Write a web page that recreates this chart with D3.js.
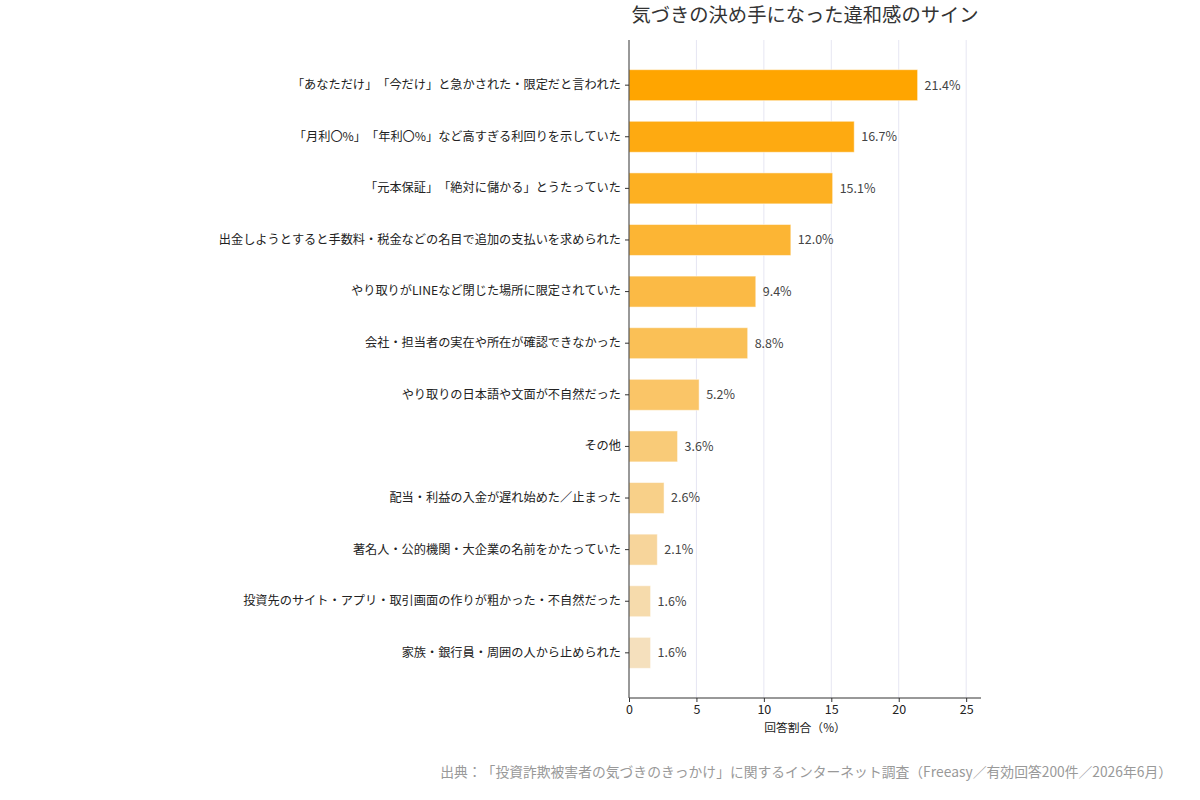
<!DOCTYPE html>
<html>
<head>
<meta charset="utf-8">
<script src="https://cdn.jsdelivr.net/npm/d3@7"></script>
<style>
  body { margin: 0; background: #fff; }
  svg { font-family: "Noto Sans CJK JP", "Noto Sans", sans-serif; text-spacing-trim: space-all; font-kerning: none; }
</style>
</head>
<body>
<div id="chart"></div>
<script>
const categories = [
    "「あなただけ」「今だけ」と急かされた・限定だと言われた",
    "「月利〇%」「年利〇%」など高すぎる利回りを示していた",
    "「元本保証」「絶対に儲かる」とうたっていた",
    "出金しようとすると手数料・税金などの名目で追加の支払いを求められた",
    "やり取りがLINEなど閉じた場所に限定されていた",
    "会社・担当者の実在や所在が確認できなかった",
    "やり取りの日本語や文面が不自然だった",
    "その他",
    "配当・利益の入金が遅れ始めた／止まった",
    "著名人・公的機関・大企業の名前をかたっていた",
    "投資先のサイト・アプリ・取引画面の作りが粗かった・不自然だった",
    "家族・銀行員・周囲の人から止められた"
];
const values = [21.4, 16.7, 15.1, 12.0, 9.4, 8.8, 5.2, 3.6, 2.6, 2.1, 1.6, 1.6];
const xTicks = [0, 5, 10, 15, 20, 25];

const width = 1200, height = 800;
const margin = { top: 40, right: 219, bottom: 102, left: 629 };

const svg = d3.select("#chart")
    .append("svg")
    .attr("width", width)
    .attr("height", height);

const x = d3.scaleLinear()
    .domain([0, 26.1])
    .range([margin.left, width - margin.right]);

const y = d3.scaleBand()
    .domain(categories)
    .range([margin.top, height - margin.bottom])
    .paddingInner(0.4)
    .paddingOuter(0.575);

const color = d3.scaleLinear()
    .domain([0, categories.length - 1])
    .range(["#ffa500", "#f5e0bd"]);

// gridlines
svg.append("g")
    .selectAll("line")
    .data(xTicks.filter(d => d > 0))
    .enter().append("line")
    .attr("x1", d => x(d))
    .attr("x2", d => x(d))
    .attr("y1", margin.top)
    .attr("y2", height - margin.bottom)
    .attr("stroke", "#e6e6f2")
    .attr("stroke-width", 1);

// bars
svg.append("g")
    .selectAll("rect")
    .data(values)
    .enter().append("rect")
    .attr("x", x(0))
    .attr("y", (d, i) => y(categories[i]))
    .attr("width", d => x(d) - x(0))
    .attr("height", y.bandwidth())
    .attr("fill", (d, i) => color(i))
    .attr("stroke", "#ffffff")
    .attr("stroke-opacity", 0.5)
    .attr("stroke-width", 1);

// value labels
svg.append("g")
    .selectAll("text")
    .data(values)
    .enter().append("text")
    .attr("x", d => x(d) + 7)
    .attr("y", (d, i) => y(categories[i]) + y.bandwidth() / 2)
    .attr("dy", "0.35em")
    .attr("font-size", "12.5px")
    .attr("fill", "#444")
    .text(d => d.toFixed(1) + "%");

// y axis
const yAxis = svg.append("g")
    .attr("transform", `translate(${margin.left},0)`)
    .call(d3.axisLeft(y).tickSize(4).tickPadding(4));
yAxis.select(".domain").attr("stroke", "#333").attr("d", `M0,${margin.top}V${height - margin.bottom}`);
yAxis.selectAll(".tick line").attr("stroke", "#333");
yAxis.selectAll(".tick text")
    .attr("font-size", "12.2px")
    .attr("fill", "#222")
    .attr("font-family", "Noto Sans CJK JP");

// x axis
const xAxis = svg.append("g")
    .attr("transform", `translate(0,${height - margin.bottom})`)
    .call(d3.axisBottom(x).tickValues(xTicks).tickSize(4).tickPadding(3));
xAxis.select(".domain").attr("stroke", "#333").attr("d", `M${margin.left},0H${width - margin.right}`);
xAxis.selectAll(".tick line").attr("stroke", "#333");
xAxis.selectAll(".tick text")
    .attr("font-size", "12.5px")
    .attr("fill", "#222")
    .attr("font-family", "Noto Sans CJK JP");

svg.append("text")
    .attr("x", (x.range()[0] + x.range()[1]) / 2)
    .attr("y", 732)
    .attr("text-anchor", "middle")
    .attr("font-size", "11.8px")
    .attr("fill", "#222")
    .text("回答割合（%）");

// title
svg.append("text")
    .attr("x", (x.range()[0] + x.range()[1]) / 2)
    .attr("y", 22)
    .attr("text-anchor", "middle")
    .attr("font-size", "19.3px")
    .attr("fill", "#333")
    .text("気づきの決め手になった違和感のサイン");

// source
svg.append("text")
    .attr("x", 1172)
    .attr("y", 777)
    .attr("text-anchor", "end")
    .attr("font-size", "13.8px")
    .attr("fill", "#999")
    .text("出典：「投資詐欺被害者の気づきのきっかけ」に関するインターネット調査（Freeasy／有効回答200件／2026年6月）");
</script>
</body>
</html>
